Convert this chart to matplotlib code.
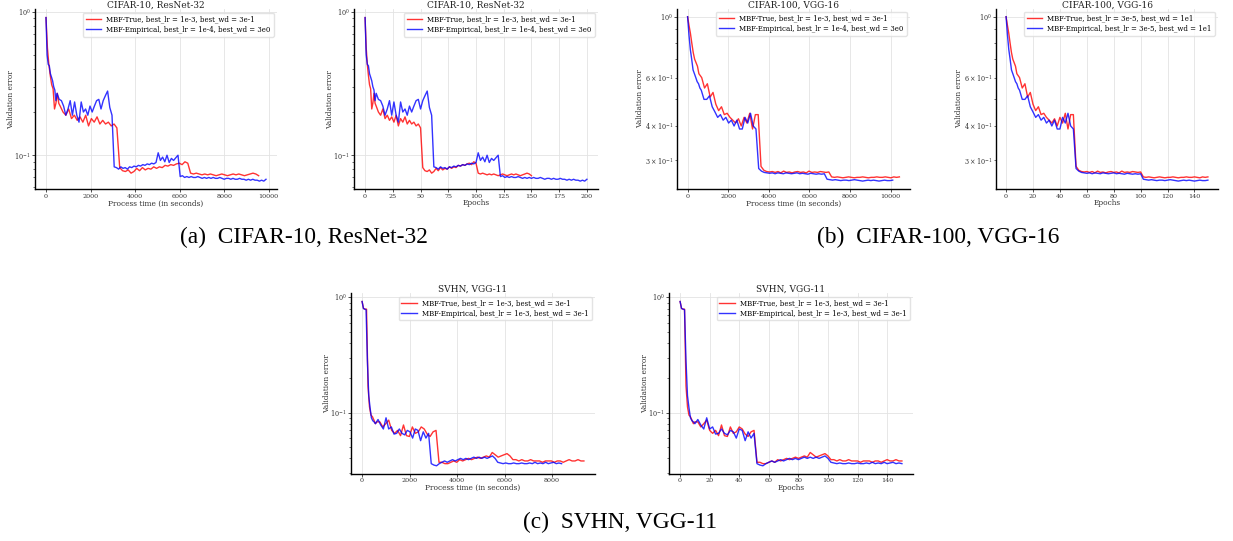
import numpy as np
import matplotlib

matplotlib.use("Agg")

import matplotlib.pyplot as plt

# epoch grid: every epoch for 0-9, then every second epoch
epochs_150 = list(range(0, 10)) + list(range(10, 151, 2))
epochs_200 = list(range(0, 10)) + list(range(10, 201, 2))

# CIFAR-10, ResNet-32
c10_true = [0.91, 0.56, 0.43, 0.36, 0.31, 0.29, 0.21, 0.23, 0.27, 0.23,
            0.22, 0.2, 0.19, 0.21, 0.18, 0.19, 0.175, 0.185, 0.17, 0.19, 0.16,
            0.18, 0.17, 0.185, 0.165, 0.175, 0.165, 0.17, 0.16, 0.165, 0.155,
            0.082, 0.078, 0.077, 0.079, 0.075, 0.077, 0.081, 0.078, 0.082, 0.079,
            0.081, 0.080, 0.083, 0.081, 0.083, 0.082, 0.085, 0.084, 0.086, 0.085,
            0.087, 0.088, 0.086, 0.090, 0.088,
            0.075, 0.074, 0.075, 0.074, 0.073, 0.074, 0.073, 0.074, 0.073, 0.072,
            0.073, 0.074, 0.073, 0.072, 0.073, 0.074, 0.073, 0.074, 0.073, 0.072,
            0.073, 0.074, 0.075, 0.074, 0.072]
c10_emp = [0.91, 0.5, 0.43, 0.42, 0.37, 0.35, 0.33, 0.30, 0.285, 0.24,
           0.27, 0.245, 0.24, 0.22, 0.19, 0.21, 0.24, 0.19, 0.235, 0.19,
           0.17, 0.235, 0.2, 0.21, 0.19, 0.22, 0.2, 0.22, 0.24, 0.245,
           0.21, 0.24, 0.26, 0.28, 0.215, 0.19,
           0.083, 0.082, 0.080, 0.083, 0.081, 0.082, 0.080, 0.083, 0.082, 0.084,
           0.083, 0.085, 0.084, 0.086, 0.085, 0.087, 0.086, 0.088, 0.087, 0.089,
           0.104, 0.092, 0.097, 0.090, 0.100, 0.089, 0.095, 0.092, 0.096, 0.100,
           0.071, 0.072, 0.070, 0.071, 0.070, 0.071, 0.070, 0.070, 0.071, 0.070,
           0.069, 0.070, 0.069, 0.070, 0.069, 0.070, 0.069, 0.069, 0.070, 0.069,
           0.068, 0.069, 0.069, 0.068, 0.069, 0.068, 0.068, 0.069, 0.068, 0.068,
           0.067, 0.068, 0.067, 0.068, 0.067, 0.067, 0.066, 0.067, 0.066, 0.068]

# CIFAR-100, VGG-16
c100_true = [1.0, 0.93, 0.87, 0.80, 0.74, 0.70, 0.68, 0.66, 0.62, 0.61,
             0.60, 0.55, 0.57, 0.51, 0.53, 0.48, 0.455, 0.47, 0.44, 0.445, 0.43,
             0.42, 0.41, 0.425, 0.40, 0.43, 0.41, 0.445, 0.39, 0.44, 0.44,
             0.285, 0.276, 0.273, 0.272, 0.273, 0.271, 0.273, 0.270, 0.274, 0.271,
             0.272, 0.270, 0.272, 0.273, 0.271, 0.272, 0.270, 0.274, 0.271, 0.272,
             0.271, 0.273, 0.272, 0.271, 0.272,
             0.261, 0.260, 0.261, 0.260, 0.259, 0.260, 0.261, 0.260, 0.259, 0.260,
             0.260, 0.261, 0.260, 0.259, 0.260, 0.260, 0.261, 0.260, 0.260, 0.261,
             0.260, 0.259, 0.261, 0.260, 0.261]
c100_emp = [1.0, 0.86, 0.76, 0.70, 0.64, 0.62, 0.60, 0.58, 0.57, 0.55,
            0.54, 0.50, 0.50, 0.515, 0.47, 0.45, 0.43, 0.44, 0.42, 0.43, 0.41,
            0.42, 0.40, 0.42, 0.39, 0.39, 0.43, 0.41, 0.445, 0.40, 0.39,
            0.280, 0.274, 0.271, 0.270, 0.269, 0.270, 0.268, 0.270, 0.269, 0.268,
            0.270, 0.269, 0.268, 0.269, 0.270, 0.268, 0.269, 0.268, 0.267, 0.269,
            0.268, 0.267, 0.268, 0.267, 0.268,
            0.256, 0.255, 0.254, 0.255, 0.254, 0.253, 0.254, 0.254, 0.253, 0.254,
            0.255, 0.254, 0.253, 0.252, 0.253, 0.254, 0.253, 0.254, 0.253, 0.252,
            0.253, 0.254, 0.253, 0.253, 0.254]

# SVHN, VGG-11
svhn_true = [0.92, 0.80, 0.79, 0.79, 0.17, 0.112, 0.095, 0.092, 0.086, 0.08,
             0.083, 0.083, 0.075, 0.08, 0.086, 0.07, 0.066, 0.07, 0.063, 0.078,
             0.063, 0.062, 0.075, 0.066, 0.068, 0.075, 0.072, 0.065, 0.062, 0.068, 0.07,
             0.037, 0.037, 0.036, 0.036, 0.037, 0.038, 0.037, 0.039, 0.038, 0.039,
             0.040, 0.039, 0.040, 0.041, 0.040, 0.041, 0.042, 0.041, 0.045, 0.043,
             0.041, 0.042, 0.043, 0.044, 0.042,
             0.039, 0.039, 0.038, 0.039, 0.038, 0.038, 0.039, 0.038, 0.038, 0.038,
             0.037, 0.038, 0.038, 0.038, 0.037, 0.038, 0.038, 0.037, 0.038, 0.039,
             0.038, 0.038, 0.039, 0.038, 0.038]
svhn_emp = [0.92, 0.80, 0.79, 0.78, 0.28, 0.14, 0.11, 0.09, 0.085, 0.083,
            0.08, 0.087, 0.078, 0.072, 0.09, 0.072, 0.075, 0.065, 0.066, 0.072,
            0.066, 0.064, 0.07, 0.068, 0.06, 0.072, 0.07, 0.057, 0.068, 0.06, 0.066,
            0.036, 0.035, 0.0345, 0.036, 0.037, 0.038, 0.037, 0.038, 0.039, 0.038,
            0.039, 0.040, 0.039, 0.040, 0.039, 0.040, 0.041, 0.040, 0.041, 0.040,
            0.041, 0.040, 0.041, 0.042, 0.040,
            0.037, 0.0365, 0.036, 0.0365, 0.036, 0.036, 0.0365, 0.036, 0.036, 0.0365,
            0.036, 0.036, 0.0365, 0.036, 0.037, 0.036, 0.0365, 0.036, 0.037, 0.036,
            0.0365, 0.037, 0.036, 0.0365, 0.036]

# total process time of each run (seconds)
c10_time = (9550, 9880)
c100_time = (10430, 10100)
svhn_time = (9340, 8400)

lab_c10 = ("MBF-True, best_lr = 1e-3, best_wd = 3e-1",
           "MBF-Empirical, best_lr = 1e-4, best_wd = 3e0")
lab_c100_time = ("MBF-True, best_lr = 1e-3, best_wd = 3e-1",
                 "MBF-Empirical, best_lr = 1e-4, best_wd = 3e0")
lab_c100_ep = ("MBF-True, best_lr = 3e-5, best_wd = 1e1",
               "MBF-Empirical, best_lr = 3e-5, best_wd = 1e1")
lab_svhn = ("MBF-True, best_lr = 1e-3, best_wd = 3e-1",
            "MBF-Empirical, best_lr = 1e-3, best_wd = 3e-1")

plt.rcParams["font.family"] = "DejaVu Serif"
plt.rcParams["mathtext.fontset"] = "dejavuserif"

W, H = 1233, 541
fig = plt.figure(figsize=(W / 100, H / 100), dpi=100)


def px_axes(left, right, top, bottom):
    ax = fig.add_axes([left / W, 1 - bottom / H, (right - left) / W, (bottom - top) / H])
    ax.px_box = (left, right, top, bottom)
    return ax


def draw(ax, ep_true, y_true, ep_emp, y_emp, labels, title, xlabel,
         times=None, title_y=5, ylabel_dx=22):
    ep_true = np.asarray(ep_true, dtype=float)
    ep_emp = np.asarray(ep_emp, dtype=float)
    if times is not None:
        # map epochs onto process time of each run
        x_true = ep_true / ep_true[-1] * times[0]
        x_emp = ep_emp / ep_emp[-1] * times[1]
    else:
        x_true, x_emp = ep_true, ep_emp
    ax.plot(x_true, y_true, color="red", lw=1.0, alpha=0.8, label=labels[0])
    ax.plot(x_emp, y_emp, color="blue", lw=1.0, alpha=0.8, label=labels[1])
    ax.set_yscale("log")
    ax.grid(True, color="#e3e3e3", lw=0.6)
    ax.set_axisbelow(True)
    for s in ("top", "right"):
        ax.spines[s].set_visible(False)
    for s in ("left", "bottom"):
        ax.spines[s].set_linewidth(1.0)
    ax.tick_params(which="both", colors="#333333", pad=1.2)
    ax.tick_params(axis="x", which="both", labelsize=4.6)
    ax.tick_params(axis="y", which="both", labelsize=4.7)
    ax.tick_params(which="major", length=2, width=0.6)
    ax.tick_params(which="minor", length=1.3, width=0.5)

    left, right, top, bottom = ax.px_box
    fig.text((left + right) / 2 / W, 1 - title_y / H, title, fontsize=6.5,
             ha="center", va="center", color="#222222")
    ax.set_xlabel(xlabel, fontsize=5.3, labelpad=0.5, color="#333333")
    ax.set_ylabel("Validation error", fontsize=5.3, color="#333333", va="center")
    ax.yaxis.set_label_coords(-ylabel_dx / (right - left), 0.5)
    ax.legend(loc="upper right", fontsize=5, handlelength=2.2, borderpad=0.4,
              labelspacing=0.3, framealpha=0.8, edgecolor="#dddddd", fancybox=True)


ax1 = px_axes(35, 277, 9.4, 189.3)
draw(ax1, epochs_150, c10_true, epochs_200, c10_emp, lab_c10,
     "CIFAR-10, ResNet-32", "Process time (in seconds)", c10_time, 5, 23.5)
ax2 = px_axes(354, 598, 9.4, 189.3)
draw(ax2, epochs_150, c10_true, epochs_200, c10_emp, lab_c10,
     "CIFAR-10, ResNet-32", "Epochs", None, 5, 24)
ax3 = px_axes(677, 910, 8.5, 189.3)
draw(ax3, epochs_150, c100_true, epochs_150, c100_emp, lab_c100_time,
     "CIFAR-100, VGG-16", "Process time (in seconds)", c100_time, 5, 37)
ax4 = px_axes(996, 1218, 8.5, 189.3)
draw(ax4, epochs_150, c100_true, epochs_150, c100_emp, lab_c100_ep,
     "CIFAR-100, VGG-16", "Epochs", None, 5, 37)
ax5 = px_axes(351, 595, 293.3, 474)
draw(ax5, epochs_150, svhn_true, epochs_150, svhn_emp, lab_svhn,
     "SVHN, VGG-11", "Process time (in seconds)", svhn_time, 289.5, 24)
ax6 = px_axes(669, 913, 293.3, 474)
draw(ax6, epochs_150, svhn_true, epochs_150, svhn_emp, lab_svhn,
     "SVHN, VGG-11", "Epochs", None, 289.5, 24)

cap = dict(fontsize=16.8, family="Liberation Serif", ha="center", va="center")
fig.text(304 / W, 1 - 237 / H, "(a)  CIFAR-10, ResNet-32", **cap)
fig.text(938 / W, 1 - 237 / H, "(b)  CIFAR-100, VGG-16", **cap)
fig.text(620 / W, 1 - 522 / H, "(c)  SVHN, VGG-11", **cap)

fig.savefig("out.png", dpi=100)
